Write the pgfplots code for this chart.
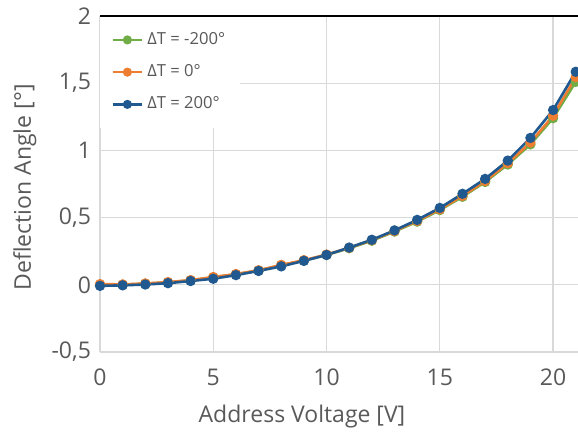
\documentclass[border=0pt]{standalone}
\usepackage{pgfplots}
\pgfplotsset{compat=1.18}
\usepackage{fontspec}
\setmainfont{Open Sans}
\definecolor{cgreen}{RGB}{112,173,71}
\definecolor{corange}{RGB}{237,125,49}
\definecolor{cblue}{RGB}{31,89,143}
\definecolor{cgrid}{RGB}{217,217,217}
\definecolor{ctext}{RGB}{89,89,89}
\begin{document}
\begin{tikzpicture}
\begin{axis}[
  at={(0,0)}, anchor=south west,
  scale only axis, width=239pt, height=168pt,
  xmin=0, xmax=21.1, ymin=-0.5, ymax=2,
  xtick={0,5,10,15,20},
  ytick={-0.5,0,0.5,1,1.5,2},
  yticklabels={{-0,5},0,{0,5},1,{1,5},2},
  grid=major,
  major grid style={cgrid, line width=0.6pt},
  axis line style={cgrid, line width=0.6pt},
  axis x line*=bottom, axis y line*=left,
  tick style={draw=none},
  ticklabel style={font=\fontsize{11.5}{13}\selectfont, text=ctext},
  /pgf/number format/assume math mode=true,
  xticklabel style={yshift=-5pt},
  yticklabel style={xshift=-1pt},
  xlabel={Address Voltage [V]},
  ylabel={Deflection Angle [°]},
  label style={font=\fontsize{11.5}{13}\selectfont, text=ctext},
  xlabel style={at={(axis description cs:0.4226,-0.193)}, anchor=center},
  ylabel style={at={(axis description cs:-0.157,0.49)}, anchor=center},
  legend style={at={(axis description cs:0,1)}, anchor=north west, draw=none, fill=white,
    font=\fontsize{8.3}{10}\selectfont, text=ctext, inner xsep=5.5pt, inner ysep=6pt,
    row sep=4.6pt, legend cell align=left},
  legend image code/.code={
    \draw[#1, mark=none, line width=1.2pt] (0cm,0cm) -- (0.52cm,0cm);
    \fill[#1] (0.26cm,0cm) circle (1.6pt);
  },
  clip=false,
]
\addplot[cgreen, line width=1.3pt, mark=*, mark size=1.9pt] coordinates {
(0,0.0) (1,0.0) (2,0.008) (3,0.018) (4,0.033) (5,0.055) (6,0.078) (7,0.106) (8,0.145) (9,0.18) (10,0.222)
(11,0.272) (12,0.328) (13,0.396) (14,0.47) (15,0.556) (16,0.655) (17,0.765) (18,0.895) (19,1.045) (20,1.24) (21,1.51)};
\addlegendentry{ΔT = -200°}
\addplot[corange, line width=1.3pt, mark=*, mark size=1.9pt] coordinates {
(0,0.005) (1,0.003) (2,0.01) (3,0.02) (4,0.035) (5,0.058) (6,0.08) (7,0.108) (8,0.148) (9,0.183) (10,0.225)
(11,0.275) (12,0.332) (13,0.4) (14,0.476) (15,0.562) (16,0.662) (17,0.772) (18,0.905) (19,1.058) (20,1.258) (21,1.545)};
\addlegendentry{ΔT = 0°}
\addplot[cblue, line width=1.3pt, mark=*, mark size=1.9pt] coordinates {
(0,-0.008) (1,-0.004) (2,0.002) (3,0.012) (4,0.028) (5,0.045) (6,0.072) (7,0.103) (8,0.137) (9,0.178) (10,0.222)
(11,0.277) (12,0.335) (13,0.405) (14,0.483) (15,0.572) (16,0.677) (17,0.788) (18,0.924) (19,1.093) (20,1.30) (21,1.585)};
\addlegendentry{ΔT = 200°}
\end{axis}
\draw[black, line width=0.6pt] (current axis.north west) -- (current axis.north east);
\pgfresetboundingbox
\path (-50pt,-40.5pt) rectangle (239pt,176pt);
\end{tikzpicture}
\end{document}
